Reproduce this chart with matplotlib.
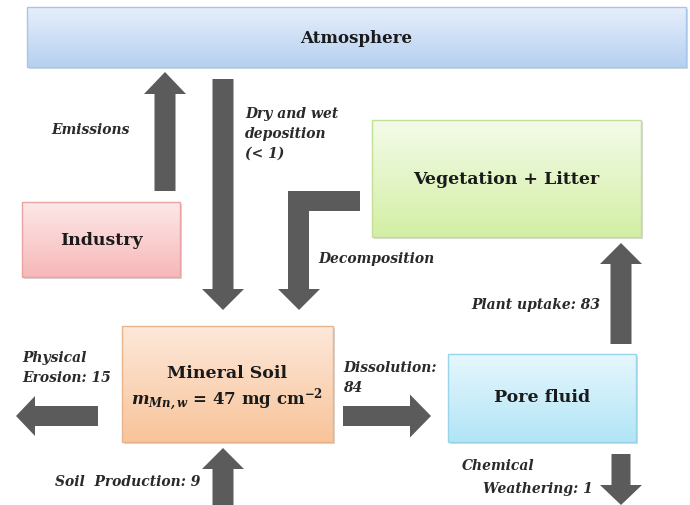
import numpy as np
import matplotlib
matplotlib.use("Agg")
import matplotlib.pyplot as plt
from matplotlib.patches import Polygon, Rectangle
from matplotlib.colors import LinearSegmentedColormap

"""
Mn budget of the soil: reservoirs (boxes) and fluxes (arrows).
"""

# reservoirs
box_names = ["Atmosphere", "Vegetation + Litter", "Industry", "Mineral Soil", "Pore fluid"]
soil_stock = 47          # mg cm^-2

# fluxes (label text and value, None when no value given)
flux_names = ["Emissions", "Dry and wet\ndeposition", "Decomposition", "Plant uptake",
              "Dissolution", "Physical\nErosion", "Soil  Production", "Chemical\nWeathering"]
flux_values = [None, "< 1", None, 83, 84, 15, 9, 1]

plt.rcParams['font.family'] = ['DejaVu Serif']
plt.rcParams['mathtext.fontset'] = 'dejavuserif'

fig = plt.figure(figsize=(6.9, 5.06), dpi=100)
ax = fig.add_axes([0, 0, 1, 1])
ax.set_xlim(0, 690)
ax.set_ylim(506, 0)
ax.axis('off')

arrow_col = '#5b5b5b'


def box(x0, y0, x1, y1, top, bottom, edge, text, fs=12.5, ty=None):
    cmap = LinearSegmentedColormap.from_list('g', [top, bottom])
    grad = np.linspace(0, 1, 64).reshape(-1, 1)
    ax.imshow(grad, cmap=cmap, extent=(x0, x1, y1, y0), aspect='auto', zorder=1)
    ax.add_patch(Rectangle((x0 + 2, y0 + 2), x1 - x0, y1 - y0, fc='#d8d8d8', ec='none', zorder=0.5))
    ax.add_patch(Rectangle((x0, y0), x1 - x0, y1 - y0, fc='none', ec=edge, lw=1, zorder=2))
    if text:
        ax.text((x0 + x1) / 2, ty if ty else (y0 + y1) / 2, text, ha='center', va='center',
                fontsize=fs, fontweight='bold', color='#1a1a1a', zorder=3)


def arrow(x0, y0, x1, y1, sw=21, hw=42, hl=21):
    # straight block arrow from tail (x0,y0) to tip (x1,y1)
    d = np.array([x1 - x0, y1 - y0], float)
    L = np.hypot(*d)
    u = d / L
    n = np.array([-u[1], u[0]])
    t = np.array([x0, y0], float)
    b = t + u * (L - hl)
    pts = [t + n * sw / 2, b + n * sw / 2, b + n * hw / 2, t + u * L,
           b - n * hw / 2, b - n * sw / 2, t - n * sw / 2]
    ax.add_patch(Polygon(pts, closed=True, fc=arrow_col, ec='none', zorder=2))


def label(x, y, s, ha='left', va='center'):
    ax.text(x, y, s, ha=ha, va=va, fontsize=10, fontstyle='italic', fontweight='bold',
            color='#2a2a2a', linespacing=1.55, zorder=3)


# boxes
box(27, 8, 686, 68, '#e6effb', '#b6d0f1', '#a9c6ea', box_names[0], fs=12)
box(372, 121, 641, 238, '#f4fbe9', '#d3efa4', '#c2df98', box_names[1], fs=12.5)
box(22, 203, 180, 278, '#fde8e8', '#f7b8b8', '#e9a3a3', box_names[2], fs=12.5)
box(122, 327, 333, 443, '#fde8da', '#f8c49a', '#e9b38b', None)
box(448, 355, 636, 443, '#e6f7fd', '#b2e5f6', '#98d5ea', box_names[4], fs=12.5, ty=398)

ax.text(227, 373, box_names[3], ha='center', va='center', fontsize=12.5,
        fontweight='bold', color='#1a1a1a', zorder=3)
ax.text(227, 400, r"$\mathbfit{m}_{\mathbfit{Mn,w}}$" + " = %d mg cm" % soil_stock + r"$^{\mathbf{-2}}$",
        ha='center', va='center', fontsize=12, fontweight='bold', color='#1a1a1a', zorder=3)

# arrows
arrow(165, 192, 165, 73, hl=22)               # emissions
arrow(223, 80, 223, 311)                      # deposition
# decomposition, L-shaped
ax.add_patch(Polygon([(360, 192), (288, 192), (288, 290), (278, 290), (299, 311),
                      (320, 290), (309, 290), (309, 212), (360, 212)],
                     closed=True, fc=arrow_col, ec='none', zorder=2))
arrow(621, 345, 621, 244)                     # plant uptake
arrow(343, 417, 431, 417, sw=20, hw=43, hl=21)  # dissolution
arrow(98, 417, 16, 417, sw=20, hw=40, hl=19)    # physical erosion
arrow(223, 506, 223, 449)                     # soil production
arrow(621, 455, 621, 506, sw=19, hw=42, hl=20)  # chemical weathering

# flux labels
label(91, 130, flux_names[0], ha='center')
label(245, 134, flux_names[1] + "\n(%s)" % flux_values[1])
label(318, 259, flux_names[2])
label(471, 305, "%s: %d" % (flux_names[3], flux_values[3]))
label(343, 378, "%s:\n%d" % (flux_names[4], flux_values[4]))
label(22, 368, "%s: %d" % (flux_names[5], flux_values[5]))
label(55, 482, "%s: %d" % (flux_names[6], flux_values[6]))
chem = flux_names[7].split("\n")
label(462, 466, chem[0])
label(483, 489, "%s: %d" % (chem[1], flux_values[7]))

fig.savefig("out.png", dpi=100)
